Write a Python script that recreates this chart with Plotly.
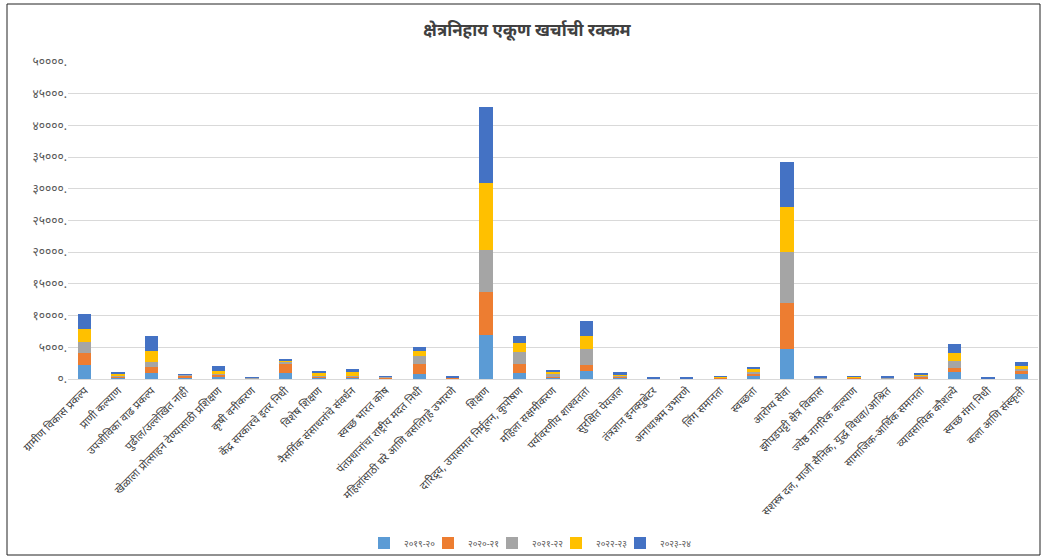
import plotly.graph_objects as go

categories = [
    "ग्रामीण विकास प्रकल्प", "प्राणी कल्याण", "उपजीविका वाढ प्रकल्प", "पुढील/उल्लेखित नाही",
    "खेळाला प्रोत्साहन देण्यासाठी प्रशिक्षण", "कृषी वनीकरण", "केंद्र सरकारचे इतर निधी",
    "विशेष शिक्षण", "नैसर्गिक संसाधनांचे संवर्धन", "स्वच्छ भारत कोष",
    "पंतप्रधानांचा राष्ट्रीय मदत निधी", "महिलांसाठी घरे आणि वसतिगृहे उभारणे", "शिक्षण",
    "दारिद्र्य, उपासमार निर्मूलन, कुपोषण", "महिला सक्षमीकरण", "पर्यावरणीय शाश्वतता",
    "सुरक्षित पेयजल", "तंत्रज्ञान इनक्युबेटर", "अनाथाश्रम उभारणे", "लिंग समानता",
    "स्वच्छता", "आरोग्य सेवा", "झोपडपट्टी क्षेत्र विकास", "ज्येष्ठ नागरिक कल्याण",
    "सशस्त्र दल, माजी सैनिक, युद्ध विधवा/आश्रित", "सामाजिक-आर्थिक समानता",
    "व्यावसायिक कौशल्ये", "स्वच्छ गंगा निधी", "कला आणि संस्कृती",
]

series_names = ["२०१९-२०", "२०२०-२१", "२०२१-२२", "२०२२-२३", "२०२३-२४"]

fy2019_20 = [2210, 160, 950, 250, 270, 60, 900, 160, 200, 50, 790, 120, 6960,
             950, 250, 1310, 160, 60, 60, 80, 400, 4750, 50, 60, 100, 150, 1150, 60, 790]
fy2020_21 = [1840, 160, 950, 250, 370, 50, 1580, 210, 160, 250, 1580, 40, 6740,
             1420, 200, 950, 200, 20, 20, 80, 450, 7280, 70, 100, 50, 200, 630, 20, 520]
fy2021_22 = [1840, 160, 840, 150, 160, 50, 260, 260, 100, 50, 1320, 100, 6700,
             1840, 300, 2480, 200, 20, 20, 150, 400, 8000, 50, 60, 120, 200, 1060, 20, 270]
fy2022_23 = [1960, 320, 1740, 30, 520, 100, 220, 260, 580, 80, 690, 40, 10440,
             1420, 350, 1990, 200, 20, 20, 50, 300, 7120, 120, 180, 30, 200, 1310, 20, 470]
fy2023_24 = [2420, 360, 2370, 60, 740, 40, 260, 320, 470, 40, 630, 60, 12020,
             1170, 350, 2480, 270, 40, 40, 100, 350, 7020, 60, 70, 70, 150, 1370, 40, 680]

series_values = [fy2019_20, fy2020_21, fy2021_22, fy2022_23, fy2023_24]
colors = ["#5B9BD5", "#ED7D31", "#A5A5A5", "#FFC000", "#4472C4"]

tick_vals = [0, 5000, 10000, 15000, 20000, 25000, 30000, 35000, 40000, 45000, 50000]
tick_text = ["०.", "५०००.", "१००००.", "१५०००.", "२००००.", "२५०००.",
             "३००००.", "३५०००.", "४००००.", "४५०००.", "५००००."]

fig = go.Figure()
for name, vals, col in zip(series_names, series_values, colors):
    fig.add_trace(go.Bar(x=categories, y=vals, name=name,
                         marker=dict(color=col, line=dict(width=0))))

# transparent spacer entry so the last legend label is not clipped
fig.add_trace(go.Bar(x=[categories[0]], y=[0], name="\u00a0", hoverinfo="skip",
                     marker=dict(color="rgba(0,0,0,0)", line=dict(width=0))))

W, H = 1043, 557
ml, mr, mt, mb = 68, 5, 62, 178
pw, ph = W - ml - mr, H - mt - mb

def px_x(x):
    return (x - ml) / pw

def px_y(y):
    return (H - mb - y) / ph

fig.update_layout(
    width=W, height=H,
    barmode="stack", bargap=0.6,
    margin=dict(l=ml, r=mr, t=mt, b=mb, autoexpand=False),
    paper_bgcolor="white", plot_bgcolor="white",
    font=dict(family="Noto Sans, sans-serif", color="#404040"),
    title=dict(text="<b>क्षेत्रनिहाय एकूण खर्चाची रक्कम</b>", x=527 / W, xanchor="center",
               y=1 - 30 / H, yanchor="middle", font=dict(size=17, color="#404040")),
    legend=dict(orientation="h", x=px_x(364), xanchor="left", y=px_y(543), yanchor="middle",
                font=dict(size=9, color="#595959"), traceorder="normal",
                bgcolor="rgba(0,0,0,0)",
                itemwidth=30, entrywidth=19, entrywidthmode="pixels"),
    xaxis=dict(tickangle=-45, tickfont=dict(size=11, color="#404040"), showgrid=False,
               showline=True, linecolor="#D9D9D9", ticks="", automargin=False),
    yaxis=dict(range=[0, 50000], tickvals=tick_vals, ticktext=tick_text,
               tickfont=dict(size=12, color="#595959"), gridcolor="#D9D9D9",
               zeroline=False, showline=False, ticks="", automargin=False),
    shapes=[dict(type="rect", xref="paper", yref="paper",
                 x0=px_x(7), x1=px_x(1040), y0=px_y(555), y1=px_y(4),
                 line=dict(color="#222222", width=1), fillcolor="rgba(0,0,0,0)")],
)

fig.write_html("out.html", config={"displayModeBar": False},
               post_script="document.body.style.margin='0px';")
